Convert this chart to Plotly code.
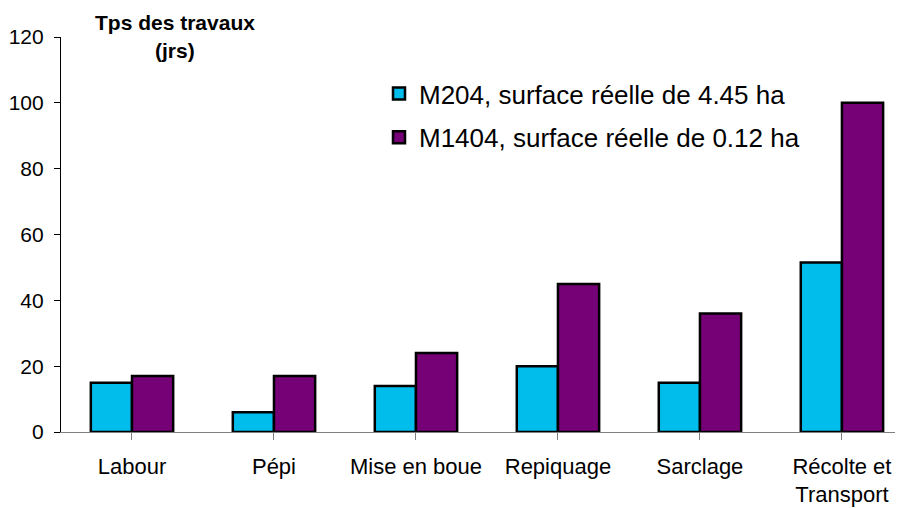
import plotly.graph_objects as go

categories = ["Labour", "Pépi", "Mise en boue", "Repiquage", "Sarclage", "Récolte et<br>Transport"]
m204 = [15, 6, 14, 20, 15, 51.5]
m1404 = [17, 17, 24, 45, 36, 100]
series_names = ["M204, surface réelle de 4.45 ha", "M1404, surface réelle de 0.12 ha"]
y_ticks = [0, 20, 40, 60, 80, 100, 120]

FONT = "Liberation Sans, Arial, sans-serif"
x_idx = list(range(len(categories)))

fig = go.Figure()
fig.add_trace(go.Bar(
    x=x_idx, y=m204, name=series_names[0], legendgroup="a",
    marker=dict(color="#00BDEB", line=dict(color="black", width=2.5)),
))
fig.add_trace(go.Bar(
    x=x_idx, y=m1404, name=series_names[1], legendgroup="b",
    marker=dict(color="#760076", line=dict(color="black", width=2.5)),
))

# page has an 8px body margin; work in page pixels and convert
OFF = 8
W, H = 903 - OFF, 508 - OFF
l, r, t, b = 61 - OFF, 0, 37 - OFF, 508 - 432
pw, ph = W - l - r, H - t - b


def px2x(px):
    return (px - OFF - l) / pw


def py2y(py):
    return (H - b - (py - OFF)) / ph


fig.update_layout(
    width=W, height=H,
    margin=dict(l=l, r=r, t=t, b=b, autoexpand=False),
    paper_bgcolor="white", plot_bgcolor="white",
    barmode="group", bargap=0.42, bargroupgap=0,
    font=dict(family=FONT, color="black"),
    showlegend=True,
    legend=dict(
        x=px2x(379), y=py2y(70), xanchor="left", yanchor="top",
        font=dict(size=26, family=FONT, color="black"),
        traceorder="grouped", tracegroupgap=7,
        bgcolor="rgba(0,0,0,0)", itemwidth=30,
    ),
    xaxis=dict(
        range=[-0.5, 5.43], tickmode="array", tickvals=x_idx, ticktext=categories,
        tickson="boundaries", ticks="outside", ticklen=7, tickcolor="#808080",
        showline=True, linecolor="#808080", linewidth=1.2,
        showgrid=False, zeroline=False, automargin=False,
        tickfont=dict(size=22, family=FONT, color="black"),
        ticklabelstandoff=7,
    ),
    yaxis=dict(
        range=[0, 120], tickmode="array", tickvals=y_ticks,
        ticks="outside", ticklen=6, tickcolor="black",
        showline=True, linecolor="black", linewidth=1.2,
        showgrid=False, zeroline=False, automargin=False,
        tickfont=dict(size=21, family=FONT, color="black"),
        ticklabelstandoff=6,
    ),
)

# title annotations placed by page pixel position
for text, px, py in [("<b>Tps des travaux</b>", 175, 22), ("<b>(jrs)</b>", 175, 51)]:
    fig.add_annotation(
        text=text, x=px2x(px), y=py2y(py), xref="paper", yref="paper",
        xanchor="center", yanchor="middle", showarrow=False,
        font=dict(size=21, family=FONT, color="black"),
    )

fig.write_html("out.html")
